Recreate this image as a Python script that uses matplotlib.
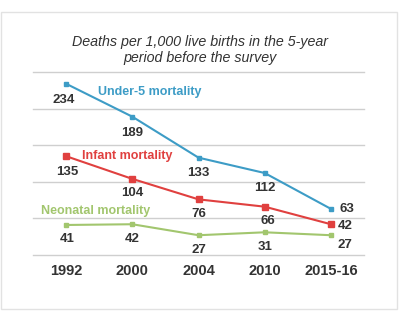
import matplotlib.pyplot as plt
from matplotlib.patches import Rectangle

plt.rcParams['font.family'] = ['Liberation Sans', 'DejaVu Sans']

# ========== data ==========
years = ['1992', '2000', '2004', '2010', '2015-16']
under5 = [234, 189, 133, 112, 63]
infant = [135, 104, 76, 66, 42]
neonatal = [41, 42, 27, 31, 27]

# label offsets in pixels (dx, dy) relative to each point
off_under5 = [(-2, -16), (0, -16), (0, -15), (0, -15), (16, 0)]
off_infant = [(1, -16), (0, -14), (0, -15), (3, -14), (14, -2)]
off_neonatal = [(1, -14), (0, -15), (0, -15), (0, -15), (14, -10)]

C_BLUE = '#3d9cc6'
C_RED = '#e0403f'
C_GREEN = '#a2c66e'
C_TEXT = '#333333'

fig = plt.figure(figsize=(4.0, 3.32), dpi=100)
fig.patches.append(Rectangle((0.003, 0.07), 0.99, 0.893, transform=fig.transFigure,
                             fill=False, edgecolor='#e2e2e2', linewidth=1.0))

ax = fig.add_axes([0.0825, 0.232, 0.8275, 0.551])
x = list(range(len(years)))

for vals, col, offs in [(under5, C_BLUE, off_under5),
                        (infant, C_RED, off_infant),
                        (neonatal, C_GREEN, off_neonatal)]:
    ms = 4 if col == C_RED else 3
    ax.plot(x, vals, color=col, linewidth=1.5, marker='s', markersize=ms, zorder=3)
    for xi, v, (dx, dy) in zip(x, vals, offs):
        ax.annotate(str(v), xy=(xi, v), xytext=(dx, dy), textcoords='offset pixels',
                    ha='center', va='center', fontsize=9.5, fontweight='bold',
                    color=C_TEXT)

ax.text(1.27, 223, 'Under-5 mortality', color=C_BLUE, fontsize=9,
        fontweight='bold', ha='center', va='center')
ax.text(0.92, 135, 'Infant mortality', color=C_RED, fontsize=9,
        fontweight='bold', ha='center', va='center')
ax.text(0.44, 60, 'Neonatal mortality', color=C_GREEN, fontsize=9,
        fontweight='bold', ha='center', va='center')

ax.set_xlim(-0.5, 4.5)
ax.set_ylim(0, 250)
ax.set_yticks([0, 50, 100, 150, 200, 250])
ax.grid(axis='y', color='#cfcfcf', linewidth=1.0)
for gl in ax.get_ygridlines():
    gl.set_clip_on(False)
ax.set_axisbelow(True)
ax.tick_params(axis='y', left=False, labelleft=False)
ax.set_xticks(x)
ax.set_xticklabels(years, fontsize=10.5, fontweight='bold', color=C_TEXT)
ax.tick_params(axis='x', bottom=False, pad=3)
for s in ax.spines.values():
    s.set_visible(False)

fig.text(0.5, 0.85, 'Deaths per 1,000 live births in the 5-year\nperiod before the survey',
         ha='center', va='center', fontsize=10.3, style='italic', color=C_TEXT,
         linespacing=1.15)

fig.savefig('out.png', dpi=100)
